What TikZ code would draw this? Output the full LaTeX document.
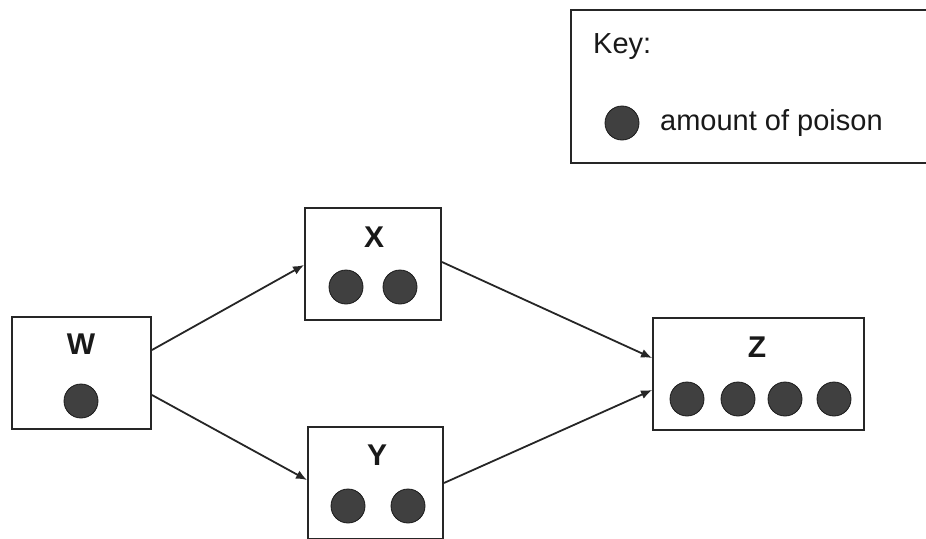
\documentclass[tikz,border=0pt]{standalone}
\usepackage{fontspec}
\setmainfont{Liberation Sans}
\usetikzlibrary{arrows.meta}
\begin{document}
\begin{tikzpicture}
  [x=1pt,y=-1pt,
   box/.style={rectangle, draw=black!85, line width=1.9pt, inner sep=0pt,
     minimum width=#1, minimum height=112pt},
   box/.default=136pt,
   tanklabel/.style={font=\fontsize{30}{30}\selectfont\bfseries, text=black!90, inner sep=0pt},
   keytext/.style={font=\fontsize{29}{29}\selectfont, text=black!90, inner sep=0pt, anchor=west},
   poison/.style={circle, fill=black!75, draw=black!90, line width=0.8pt,
     minimum size=34pt, inner sep=0pt},
   flow/.style={-{Latex[length=11pt,width=9pt]}, draw=black!85, line width=1.8pt}]
  \useasboundingbox (0,0) rectangle (926,538);

  % key
  \node[box=357pt, minimum height=153pt] (key) at (749.5,86.5) {};
  \node[keytext] (keylabel) at (593,47) {Key:};
  \node[poison] (keydot) at (622,123) {};
  \node[keytext] (keyname) at (660,123) {amount of poison};

  % tanks
  \node[box=139pt] (W) at (81.5,373) {};
  \node[box] (X) at (373,264) {};
  \node[box=135pt] (Y) at (375.5,483) {};
  \node[box=211pt] (Z) at (758.5,374) {};

  \node[tanklabel] (wname) at (81,344) {W};
  \node[tanklabel] (xname) at (374,237) {X};
  \node[tanklabel] (yname) at (377,455) {Y};
  \node[tanklabel] (zname) at (757,347) {Z};

  \node[poison] (w1) at (81,401) {};
  \node[poison] (x1) at (346,287) {};
  \node[poison] (x2) at (400,287) {};
  \node[poison] (y1) at (348,506) {};
  \node[poison] (y2) at (408,506) {};
  \node[poison] (z1) at (687,399) {};
  \node[poison] (z2) at (738,399) {};
  \node[poison] (z3) at (785,399) {};
  \node[poison] (z4) at (834,399) {};

\path
    ([yshift=23pt]W.east) edge [flow] ([yshift=-1pt]X.west)
    ([yshift=-22pt]W.east) edge [flow] ([yshift=3pt]Y.west)
    ([yshift=2pt]X.east) edge [flow] ([yshift=16pt]Z.west)
    (Y.east) edge [flow] ([yshift=-16pt]Z.west)
;
\end{tikzpicture}
\end{document}
